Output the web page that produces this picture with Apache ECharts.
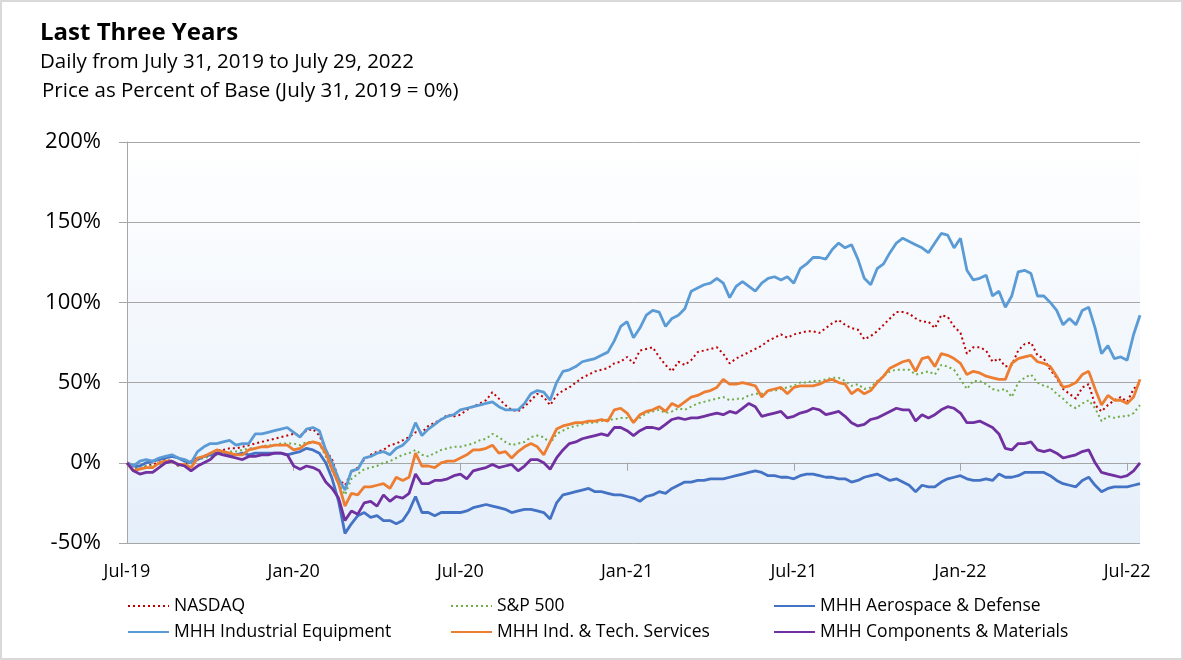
<!DOCTYPE html>
<html>
<head>
<meta charset="utf-8">
<script src="https://cdn.jsdelivr.net/npm/echarts@6/dist/echarts.min.js"></script>
<style>
  html, body { margin: 0; padding: 0; background: #ffffff; }
  #wrap { position: relative; width: 1183px; height: 660px; }
  #chart { position: absolute; left: 0; top: 0; width: 1183px; height: 660px; }
  #frame { position: absolute; left: 0; top: 0; width: 1183px; height: 660px; box-sizing: border-box; border: 2px solid #d9d9d9; pointer-events: none; }
</style>
</head>
<body>
<div id="wrap"><div id="chart"></div><div id="frame"></div></div>
<script>
// ---- Data (weekly readings, % change vs. July 31, 2019) ----
const tickLabels = ['Jul-19', 'Jan-20', 'Jul-20', 'Jan-21', 'Jul-21', 'Jan-22', 'Jul-22'];
const weeksPerTick = 26;
const seriesNames = ['NASDAQ', 'S&P 500', 'MHH Aerospace & Defense', 'MHH Industrial Equipment', 'MHH Ind. & Tech. Services', 'MHH Components & Materials'];

const nasdaq = [0,-3,-4,-2,-1,0,2,1,-2,-1,1,3,4,6,8,8,9,9,10,11,12,13,14,15,16,17,18,17,20,21,17,8,2,-10,-14,-6,-3,2,5,7,8,11,12,14,16,19,19,23,25,27,30,29,30,33,35,37,39,44,40,36,33,32,35,39,43,41,36,42,45,47,50,53,55,57,58,59,62,63,66,62,70,71,72,66,61,57,63,61,64,69,70,71,72,68,62,65,67,69,71,73,76,78,80,78,80,81,82,82,81,84,87,89,86,84,83,77,79,82,86,90,94,94,93,90,88,88,84,92,91,85,81,68,72,72,70,63,65,60,61,70,74,75,67,65,58,53,46,43,40,47,49,36,32,36,39,41,38,46,50];
const sp500 = [0,-3,-4,-2,-2,-1,0,1,-2,-1,0,2,3,4,5,6,7,7,8,9,9,10,11,11,12,12,12,11,13,13,12,4,-5,-13,-20,-10,-7,-4,-3,-2,0,1,3,5,6,8,5,4,6,8,9,10,10,11,12,14,15,18,16,13,11,12,13,16,17,16,12,18,20,22,23,24,25,25,26,27,27,28,28,26,28,31,32,33,31,32,34,33,35,37,38,39,40,41,39,40,40,42,43,43,45,45,46,47,48,50,50,51,51,52,53,53,51,48,49,46,47,51,54,57,58,58,58,55,56,57,55,61,60,58,52,46,51,51,49,46,45,46,41,50,53,55,50,48,47,43,40,36,34,37,39,34,26,29,28,29,29,31,36];
const aerospace = [0,-2,-2,0,1,2,3,4,3,1,0,2,4,5,6,7,5,5,6,5,6,6,6,6,6,5,6,7,9,8,6,0,-10,-24,-44,-38,-33,-31,-34,-33,-36,-36,-38,-36,-30,-21,-31,-31,-33,-31,-31,-31,-31,-30,-28,-27,-26,-27,-28,-29,-31,-30,-29,-29,-30,-31,-35,-25,-20,-19,-18,-17,-16,-18,-18,-19,-20,-20,-21,-22,-24,-21,-20,-18,-19,-16,-14,-12,-12,-11,-11,-10,-10,-10,-9,-8,-7,-6,-5,-6,-8,-8,-9,-9,-10,-8,-7,-7,-8,-9,-9,-10,-10,-12,-11,-9,-8,-7,-9,-11,-10,-12,-14,-18,-14,-15,-15,-12,-10,-9,-8,-10,-11,-11,-10,-11,-7,-9,-9,-8,-6,-6,-6,-6,-8,-11,-13,-14,-15,-11,-9,-14,-18,-16,-15,-15,-15,-14,-13];
const industrialEquip = [0,-2,1,2,1,3,4,5,3,2,0,7,10,12,12,13,14,11,12,12,18,18,19,20,21,22,19,16,21,22,20,8,0,-10,-17,-5,-4,3,4,6,7,5,9,11,15,25,17,21,24,27,29,30,33,34,35,36,37,38,35,33,33,33,37,43,45,44,39,50,57,58,60,63,64,65,67,69,76,85,88,78,84,92,95,94,85,90,92,96,107,109,111,112,115,112,103,110,113,110,107,112,115,116,114,116,112,121,124,128,128,127,133,137,134,136,127,115,111,121,124,131,137,140,138,136,134,131,137,143,142,134,140,120,114,115,117,104,107,97,104,119,120,118,104,104,100,95,86,90,86,95,97,84,68,73,65,66,64,80,92];
const indTechServices = [0,-5,-4,-3,-3,0,1,1,-1,-1,-3,3,4,6,8,7,6,5,5,8,9,10,10,11,11,11,8,9,12,13,12,6,-4,-13,-27,-19,-20,-15,-15,-14,-13,-16,-9,-11,-9,6,-2,-2,-3,0,1,1,3,5,8,8,9,11,6,7,3,7,10,12,10,5,13,21,23,24,25,25,26,26,27,26,33,34,31,25,30,32,33,35,32,37,35,38,41,42,44,45,47,52,49,49,50,49,48,41,45,46,47,43,47,48,48,48,49,51,52,50,49,43,46,43,45,50,54,59,61,63,64,57,65,66,60,68,67,65,62,55,57,56,54,53,52,52,62,65,66,67,63,62,60,54,47,48,50,55,57,46,36,42,39,39,37,41,52];
const componentsMaterials = [0,-5,-7,-6,-6,-3,0,1,-1,-2,-5,-2,0,2,6,5,4,3,2,4,4,5,5,6,6,5,-2,-4,-2,-3,-5,-12,-16,-22,-36,-30,-32,-25,-24,-27,-20,-24,-21,-22,-19,-7,-13,-13,-11,-11,-10,-8,-7,-10,-5,-4,-3,-1,-3,-2,-1,-5,-2,2,2,0,-4,3,8,12,13,15,16,17,18,17,22,22,20,17,20,22,22,21,24,27,28,27,28,28,29,30,31,30,32,31,34,37,35,29,30,31,32,28,29,31,32,34,33,30,31,32,29,25,23,24,27,28,30,32,34,33,33,26,30,28,30,33,35,34,31,25,25,26,24,22,18,9,8,12,12,13,8,7,8,6,3,4,5,7,8,0,-6,-7,-8,-9,-8,-5,0];

const seriesData = [nasdaq, sp500, aerospace, industrialEquip, indTechServices, componentsMaterials];

// weekly category positions (one per week starting July 31, 2019)
const categories = [];
{
  const start = Date.UTC(2019, 6, 31);
  for (let i = 0; i < nasdaq.length; i++) {
    const d = new Date(start + i * 7 * 86400000);
    categories.push(d.toISOString().slice(0, 10));
  }
}

// ---- Styles ----
const FONT = '"Open Sans", sans-serif';
const colors = ['#c00000', '#70ad47', '#4472c4', '#5b9bd5', '#ed7d31', '#7030a0'];
const dotted = [true, true, false, false, false, false];

const chart = echarts.init(document.getElementById('chart'), null, { renderer: 'canvas' });

const legendLeft = [127, 450, 773];
const legendTop = [597, 623];

const option = {
  animation: false,
  backgroundColor: '#ffffff',
  title: [
    { text: 'Last Three Years', left: 40, top: 21, padding: 0, textStyle: { fontFamily: FONT, fontSize: 24, fontWeight: 'bold', color: '#000' } },
    { text: 'Daily from July 31, 2019 to July 29, 2022', left: 40, top: 52, padding: 0, textStyle: { fontFamily: FONT, fontSize: 20.5, fontWeight: 'normal', color: '#000' } },
    { text: 'Price as Percent of Base (July 31, 2019 = 0%)', left: 42, top: 81, padding: 0, textStyle: { fontFamily: FONT, fontSize: 20.5, fontWeight: 'normal', color: '#000' } }
  ],
  legend: seriesNames.map((name, i) => ({
    data: [name],
    left: legendLeft[i % 3],
    top: legendTop[Math.floor(i / 3)],
    itemWidth: 41,
    itemHeight: 12,
    padding: 0,
    selectedMode: false,
    itemStyle: { opacity: 0 },
    textStyle: { fontFamily: FONT, fontSize: 17.5, color: '#000' }
  })),
  grid: {
    left: 127, right: 43, top: 142, bottom: 117,
    show: true,
    borderWidth: 0,
    backgroundColor: new echarts.graphic.LinearGradient(0, 0, 0, 1, [
      { offset: 0, color: '#ffffff' },
      { offset: 1, color: '#e5effa' }
    ])
  },
  xAxis: {
    type: 'category',
    data: categories,
    boundaryGap: false,
    axisLine: { show: true, lineStyle: { color: '#a6a6a6', width: 1 } },
    axisTick: { show: true, length: 8, interval: (idx) => idx % weeksPerTick === 0, lineStyle: { color: '#a6a6a6' } },
    axisLabel: {
      interval: (idx) => idx % weeksPerTick === 0,
      formatter: (val, idx) => tickLabels[idx / weeksPerTick] || '',
      fontFamily: FONT, fontSize: 18, color: '#000', margin: 20
    },
    splitLine: { show: false }
  },
  yAxis: {
    type: 'value',
    min: -50, max: 200, interval: 50,
    axisLine: { show: true, lineStyle: { color: '#a6a6a6', width: 1 } },
    axisTick: { show: true, length: 8, lineStyle: { color: '#a6a6a6' } },
    axisLabel: { formatter: '{value}%', fontFamily: FONT, fontSize: 22, color: '#000', margin: 26 },
    splitLine: { show: true, lineStyle: { color: '#a6a6a6', width: 1 } }
  },
  series: seriesNames.map((name, i) => ({
    name,
    type: 'line',
    data: seriesData[i],
    symbol: 'none',
    smooth: false,
    color: colors[i],
    lineStyle: dotted[i]
      ? { color: colors[i], width: 2, type: [2, 3] }
      : { color: colors[i], width: 2.8 },
    z: 2 + i
  }))
};

chart.setOption(option);
</script>
</body>
</html>
